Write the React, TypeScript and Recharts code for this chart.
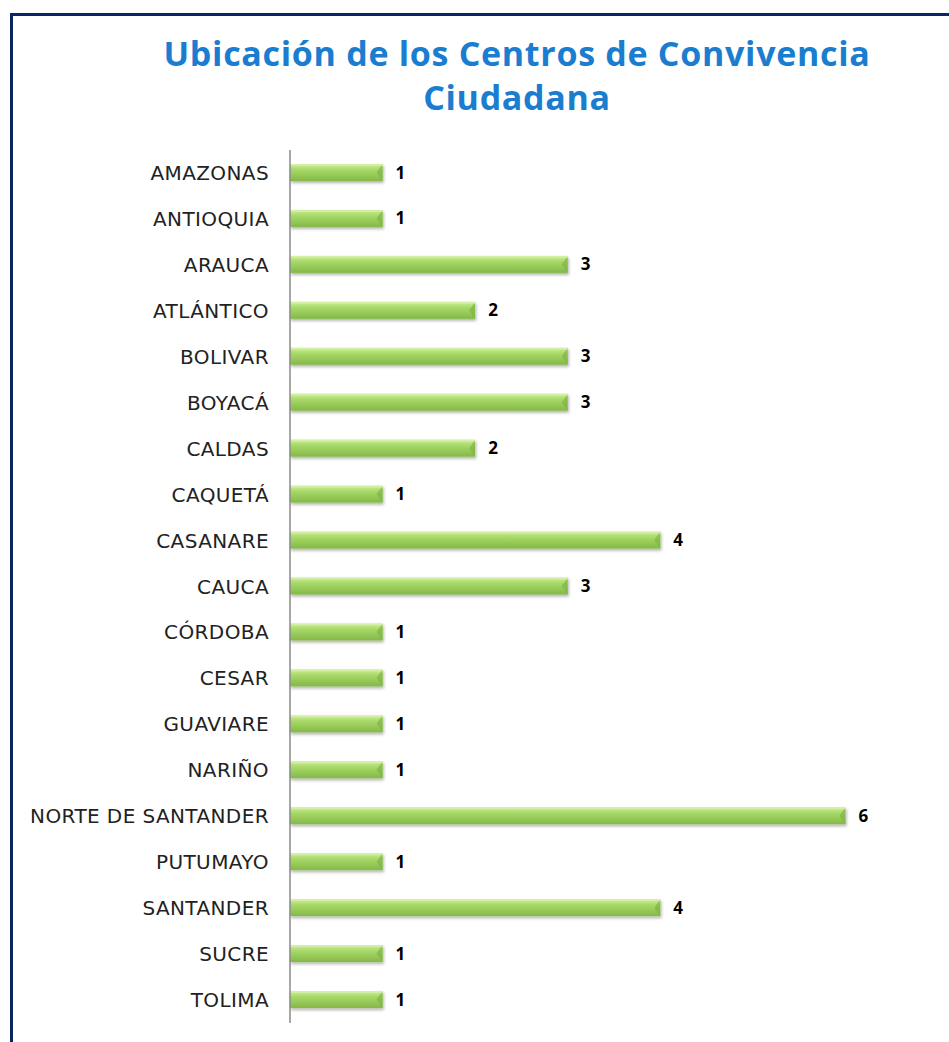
import { BarChart, Bar, XAxis, YAxis, LabelList } from 'recharts';

const departamentos = [
  'AMAZONAS', 'ANTIOQUIA', 'ARAUCA', 'ATLÁNTICO', 'BOLIVAR', 'BOYACÁ', 'CALDAS', 'CAQUETÁ',
  'CASANARE', 'CAUCA', 'CÓRDOBA', 'CESAR', 'GUAVIARE', 'NARIÑO', 'NORTE DE SANTANDER',
  'PUTUMAYO', 'SANTANDER', 'SUCRE', 'TOLIMA',
];
const centros = [1, 1, 3, 2, 3, 3, 2, 1, 4, 3, 1, 1, 1, 1, 6, 1, 4, 1, 1];

const data = departamentos.map((d, i) => ({ depto: d, centros: centros[i] }));

const FONT = '"Open Sans", "DejaVu Sans", sans-serif';
const TICK_FONT = '"DejaVu Sans", sans-serif';

const DeptoTick = ({ x, y, payload }: any) => (
  <text x={x} y={y} dy={7} textAnchor="end" fill="#222" fontSize={20} letterSpacing={0.4} fontFamily={TICK_FONT}>
    {payload.value}
  </text>
);

// green bevel bar, roughly like the excel 3d look
const GreenBar = ({ x, y, width, height }: any) => {
  if (!width) return null;
  const cap = 6;
  return (
    <g filter="url(#sombra)">
      <rect x={x} y={y} width={width} height={height} fill="url(#verde)" />
      <polygon points={`${x + width - cap},${y + height / 2} ${x + width},${y} ${x + width},${y + height}`} fill="#7fb545" opacity={0.7} />
      <rect x={x} y={y} width={width} height={2} fill="#d4f0a8" opacity={0.8} />
    </g>
  );
};

const Chart = () => {
  return (
    <div style={{ position: 'absolute', left: 0, top: 0, width: 949, height: 1042, background: '#fff' }}>
      <div style={{
        position: 'absolute', left: 10, top: 13, width: 939, height: 1029,
        borderLeft: '3px solid #0b2566', borderTop: '3px solid #0b2566', boxSizing: 'border-box',
      }} />
      <div style={{
        position: 'absolute', left: 12, top: 31, width: 1010, textAlign: 'center',
        color: '#1b7dd0', fontFamily: FONT, fontWeight: 700, fontSize: 34, lineHeight: '44px',
        letterSpacing: 0.7,
      }}>
        Ubicación de los Centros de Convivencia<br />Ciudadana
      </div>
      <div style={{ position: 'absolute', left: 0, top: 0 }}>
        <BarChart
          width={949}
          height={1042}
          data={data}
          layout="vertical"
          margin={{ top: 150, right: 11, bottom: 19, left: 0 }}
          barCategoryGap={14}
        >
          <defs>
            <linearGradient id="verde" x1="0" y1="0" x2="0" y2="1">
              <stop offset="0%" stopColor="#cdee9a" />
              <stop offset="35%" stopColor="#a6d866" />
              <stop offset="100%" stopColor="#84b848" />
            </linearGradient>
            <filter id="sombra" x="-5%" y="-30%" width="110%" height="180%">
              <feDropShadow dx="1" dy="2" stdDeviation="1.5" floodColor="#000" floodOpacity="0.3" />
            </filter>
          </defs>
          <XAxis type="number" domain={[0, 7]} hide />
          <YAxis
            type="category"
            dataKey="depto"
            width={290}
            tick={<DeptoTick />}
            tickLine={false}
            tickSize={0}
            tickMargin={21}
            axisLine={{ stroke: '#8a8a8a', strokeWidth: 1.5 }}
            interval={0}
          />
          <Bar dataKey="centros" barSize={17} shape={<GreenBar />} isAnimationActive={false}>
            <LabelList dataKey="centros" position="right" offset={13} fill="#000" fontSize={17} fontWeight={700} fontFamily={FONT} />
          </Bar>
        </BarChart>
      </div>
    </div>
  );
};

export default function App() {
  return <Chart />;
}
